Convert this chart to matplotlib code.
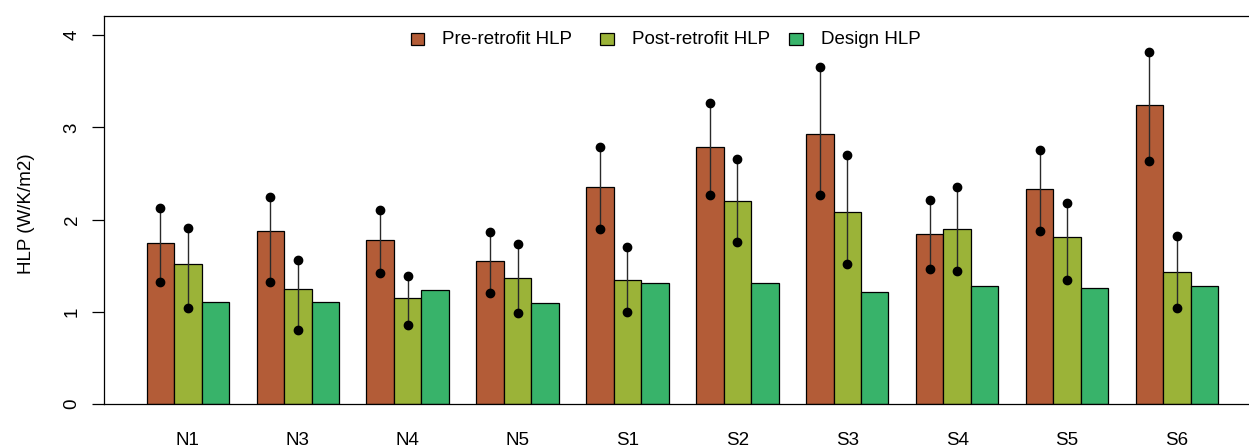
import matplotlib
matplotlib.use("Agg")
import matplotlib.pyplot as plt
from matplotlib.patches import Rectangle
import numpy as np

plt.rcParams['font.family'] = ['Liberation Sans', 'DejaVu Sans']

categories = ["N1", "N3", "N4", "N5", "S1", "S2", "S3", "S4", "S5", "S6"]
series_names = ["Pre-retrofit HLP", "Post-retrofit HLP", "Design HLP"]
colors = ["#B35C37", "#9BB338", "#38B36A"]

pre = [1.75, 1.875, 1.778, 1.554, 2.349, 2.789, 2.934, 1.839, 2.331, 3.245]
post = [1.514, 1.25, 1.149, 1.369, 1.348, 2.204, 2.085, 1.901, 1.81, 1.431]
design = [1.102, 1.102, 1.232, 1.098, 1.315, 1.315, 1.218, 1.279, 1.257, 1.279]

pre_upper = [2.13, 2.25, 2.10, 1.861, 2.786, 3.27, 3.653, 2.211, 2.75, 3.823]
pre_lower = [1.32, 1.32, 1.42, 1.20, 1.897, 2.269, 2.262, 1.463, 1.872, 2.634]
post_upper = [1.905, 1.565, 1.388, 1.738, 1.705, 2.656, 2.696, 2.352, 2.179, 1.821]
post_lower = [1.044, 0.806, 0.856, 0.983, 0.994, 1.753, 1.518, 1.445, 1.348, 1.044]

yticks = [0, 1, 2, 3, 4]

W, H, DPI = 1249, 448, 100
fig = plt.figure(figsize=(W / DPI, H / DPI), dpi=DPI)
ax = fig.add_axes([103.85 / W, 44 / H, 1157.15 / W, 388 / H])

n = len(categories)
group_left = 1 + 4 * np.arange(n)
series = [pre, post, design]
for j, (vals, col) in enumerate(zip(series, colors)):
    ax.bar(group_left + j, vals, width=1.0, align='edge', color=col,
           edgecolor='black', linewidth=0.9, zorder=2)

for j, (up, lo) in enumerate([(pre_upper, pre_lower), (post_upper, post_lower)]):
    xc = group_left + j + 0.5
    ax.vlines(xc, lo, up, color='#2a2a2a', linewidth=1.0, zorder=3)
    ax.plot(xc, up, 'o', color='black', markersize=6.0, zorder=4, linestyle='none')
    ax.plot(xc, lo, 'o', color='black', markersize=6.0, zorder=4, linestyle='none')

ax.set_xlim(-0.56, 41.56)
ax.set_ylim(0, 4.209)

ax.set_xticks(group_left + 1.5)
ax.set_xticklabels(categories)
ax.tick_params(axis='x', length=0, pad=20.2, labelsize=13.5)

ax.set_yticks(yticks)
ax.set_yticklabels([str(t) for t in yticks])
ax.tick_params(axis='y', length=8.3, width=0.9, direction='out', pad=8.5, labelsize=13.5)
for lab in ax.get_yticklabels():
    lab.set_rotation(90)
    lab.set_va('center')

ax.set_ylabel("HLP (W/K/m2)", fontsize=13.5)
ax.yaxis.set_label_coords((35 - 103.85) / 1157.15, 0.49)

for s in ['left', 'top', 'bottom']:
    ax.spines[s].set_linewidth(0.9)
ax.spines['right'].set_visible(False)

# legend (manual, horizontal)
sq_x = [410.7, 600.0, 789.3]
txt_x = [441.7, 631.7, 821.0]
for name, col, sx, tx in zip(series_names, colors, sq_x, txt_x):
    fig.patches.append(Rectangle((sx / W, 1 - 45 / H), 13.5 / W, 12 / H,
                                 transform=fig.transFigure, facecolor=col,
                                 edgecolor='black', linewidth=0.9))
    fig.text(tx / W, 1 - 39 / H, name, fontsize=13.5, va='center', ha='left')

fig.savefig("out.png", dpi=DPI)
